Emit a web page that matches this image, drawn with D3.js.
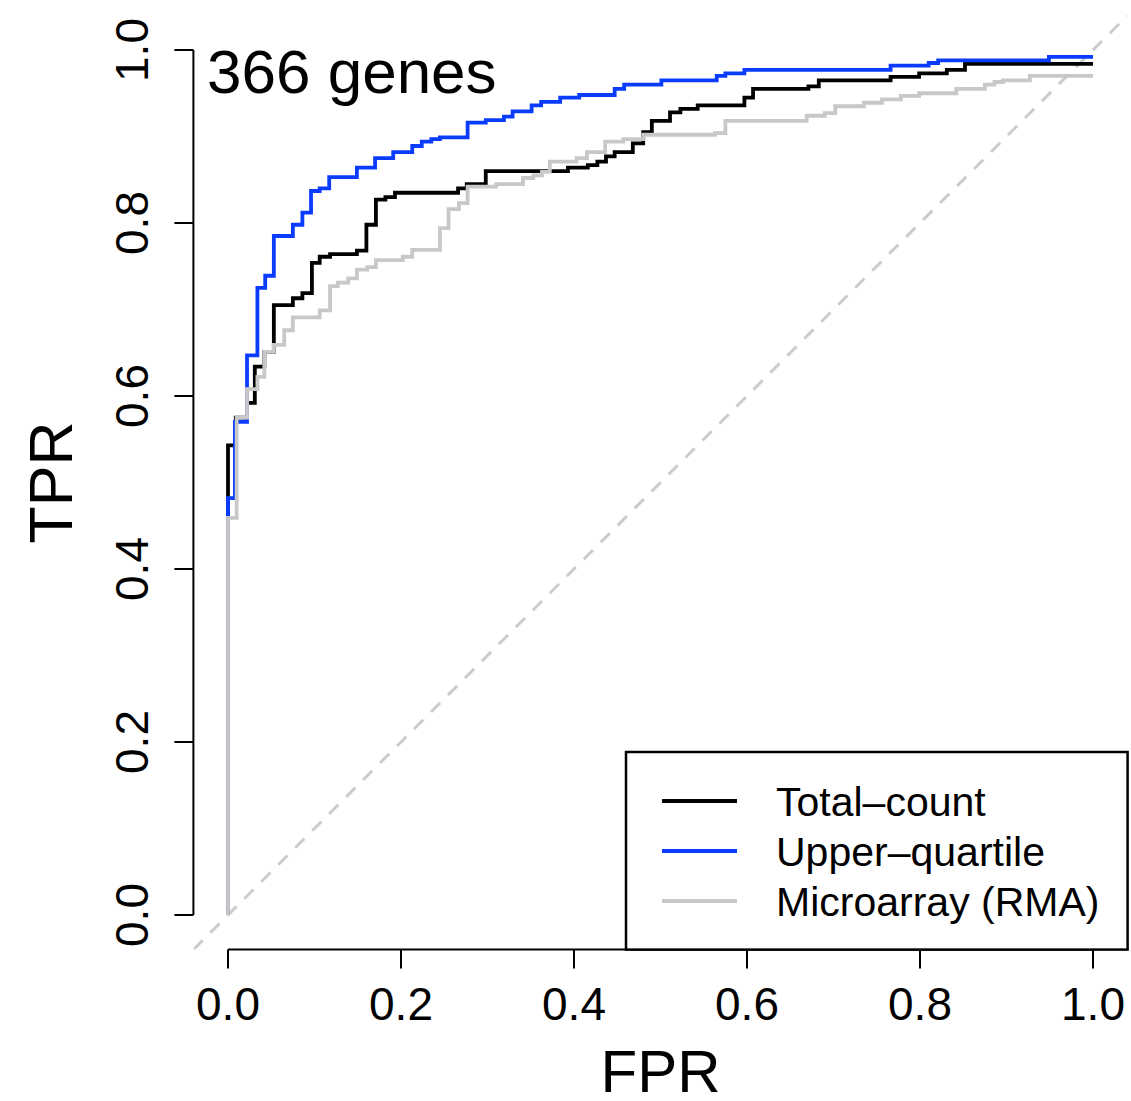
<!DOCTYPE html>
<html>
<head>
<meta charset="utf-8">
<script src="https://cdn.jsdelivr.net/npm/d3@7"></script>
<style>
  body { margin: 0; background: #fff; }
  svg { display: block; font-family: "Liberation Sans", Arial, Helvetica, sans-serif; }
</style>
</head>
<body>
<div id="chart"></div>
<script>
// ROC curves (corner points of each step)
const fprTotal = [0, 0, 0.009, 0.022, 0.031, 0.042, 0.053, 0.075, 0.086, 0.097, 0.106, 0.118, 0.149, 0.160, 0.171, 0.182, 0.193, 0.266, 0.276, 0.298, 0.393, 0.416, 0.427, 0.437, 0.447, 0.468, 0.480, 0.490, 0.511, 0.523, 0.543, 0.597, 0.607, 0.671, 0.683, 0.766, 0.799, 0.831, 0.852, 1.0];
const tprTotal = [0, 0.543, 0.575, 0.592, 0.634, 0.651, 0.705, 0.713, 0.719, 0.754, 0.761, 0.764, 0.768, 0.798, 0.827, 0.830, 0.835, 0.840, 0.845, 0.860, 0.864, 0.867, 0.871, 0.877, 0.882, 0.892, 0.905, 0.918, 0.928, 0.932, 0.936, 0.945, 0.955, 0.958, 0.965, 0.969, 0.973, 0.977, 0.984, 0.984];

const fprUpper = [0, 0, 0.008, 0.022, 0.034, 0.043, 0.053, 0.075, 0.086, 0.096, 0.106, 0.117, 0.149, 0.170, 0.191, 0.213, 0.224, 0.235, 0.245, 0.277, 0.298, 0.319, 0.329, 0.351, 0.362, 0.384, 0.406, 0.447, 0.458, 0.501, 0.565, 0.575, 0.597, 0.766, 0.810, 0.821, 0.949, 1.0];
const tprUpper = [0, 0.482, 0.570, 0.647, 0.725, 0.739, 0.785, 0.798, 0.812, 0.837, 0.840, 0.853, 0.864, 0.875, 0.882, 0.889, 0.894, 0.897, 0.899, 0.916, 0.919, 0.923, 0.929, 0.936, 0.940, 0.945, 0.948, 0.955, 0.960, 0.965, 0.970, 0.973, 0.977, 0.982, 0.985, 0.988, 0.992, 0.992];

const fprRma = [0, 0, 0.010, 0.022, 0.034, 0.042, 0.053, 0.065, 0.075, 0.106, 0.118, 0.127, 0.139, 0.149, 0.161, 0.171, 0.202, 0.213, 0.245, 0.255, 0.267, 0.277, 0.310, 0.341, 0.353, 0.363, 0.372, 0.403, 0.415, 0.436, 0.457, 0.480, 0.563, 0.575, 0.669, 0.690, 0.702, 0.735, 0.756, 0.778, 0.799, 0.842, 0.875, 0.886, 0.896, 0.927, 1.0];
const tprRma = [0, 0.459, 0.575, 0.608, 0.622, 0.651, 0.659, 0.676, 0.691, 0.699, 0.727, 0.731, 0.736, 0.746, 0.749, 0.757, 0.761, 0.769, 0.794, 0.816, 0.823, 0.842, 0.845, 0.852, 0.855, 0.859, 0.871, 0.875, 0.882, 0.894, 0.897, 0.902, 0.904, 0.918, 0.924, 0.927, 0.935, 0.939, 0.943, 0.947, 0.950, 0.955, 0.960, 0.963, 0.965, 0.970, 0.970];

const seriesNames = ["Total\u2013count", "Upper\u2013quartile", "Microarray (RMA)"];
const seriesColors = ["#000000", "#0a3cff", "#c8c8c8"];
const tickValues = [0, 0.2, 0.4, 0.6, 0.8, 1.0];
const title = "366 genes";

const width = 1131, height = 1101;
const x = d3.scaleLinear().domain([0, 1]).range([228, 1093]);
const y = d3.scaleLinear().domain([0, 1]).range([915, 50]);
// R style plot region, 4% padding on each side
const xr = [x(-0.04), x(1.04)];
const yr = [y(-0.04), y(1.04)];

const svg = d3.select("#chart").append("svg")
  .attr("width", width)
  .attr("height", height);

svg.append("defs").append("clipPath").attr("id", "plotclip")
  .append("rect")
  .attr("x", xr[0]).attr("y", yr[1])
  .attr("width", xr[1] - xr[0]).attr("height", yr[0] - yr[1]);

const plot = svg.append("g").attr("clip-path", "url(#plotclip)");

// diagonal reference
plot.append("line")
  .attr("x1", x(-0.04)).attr("y1", y(-0.04))
  .attr("x2", x(1.04)).attr("y2", y(1.04))
  .attr("stroke", "#cccccc")
  .attr("stroke-width", 3)
  .attr("stroke-dasharray", "13,11");

const series = [
  { fpr: fprTotal, tpr: tprTotal },
  { fpr: fprUpper, tpr: tprUpper },
  { fpr: fprRma, tpr: tprRma }
];

const line = d3.line()
  .x(d => x(d[0]))
  .y(d => y(d[1]))
  .curve(d3.curveStepAfter);

series.forEach((s, i) => {
  plot.append("path")
    .datum(s.fpr.map((f, j) => [f, s.tpr[j]]))
    .attr("fill", "none")
    .attr("stroke", seriesColors[i])
    .attr("stroke-width", 3.8)
    .attr("stroke-linejoin", "miter")
    .attr("d", line);
});

// axes, R style (no full box)
const xAxis = svg.append("g").attr("transform", `translate(0,${yr[0]})`);
xAxis.append("line")
  .attr("x1", x(0)).attr("x2", x(1))
  .attr("stroke", "#000").attr("stroke-width", 2);
xAxis.selectAll(".tick")
  .data(tickValues)
  .join("line")
  .attr("x1", d => x(d)).attr("x2", d => x(d))
  .attr("y1", 0).attr("y2", 19)
  .attr("stroke", "#000").attr("stroke-width", 2);
xAxis.selectAll("text")
  .data(tickValues)
  .join("text")
  .attr("x", d => x(d))
  .attr("y", 70)
  .attr("text-anchor", "middle")
  .style("font-size", "46px")
  .text(d => d.toFixed(1));

const yAxis = svg.append("g").attr("transform", `translate(${xr[0]},0)`);
yAxis.append("line")
  .attr("y1", y(0)).attr("y2", y(1))
  .attr("stroke", "#000").attr("stroke-width", 2);
yAxis.selectAll(".tick")
  .data(tickValues)
  .join("line")
  .attr("y1", d => y(d)).attr("y2", d => y(d))
  .attr("x1", 0).attr("x2", -19)
  .attr("stroke", "#000").attr("stroke-width", 2);
yAxis.selectAll("text")
  .data(tickValues)
  .join("text")
  .attr("transform", d => `translate(-45,${y(d)}) rotate(-90)`)
  .attr("text-anchor", "middle")
  .style("font-size", "46px")
  .text(d => d.toFixed(1));

// axis titles
svg.append("text")
  .attr("x", (xr[0] + xr[1]) / 2)
  .attr("y", 1092)
  .attr("text-anchor", "middle")
  .style("font-size", "60px")
  .text("FPR");

svg.append("text")
  .attr("transform", `translate(72,${(yr[0] + yr[1]) / 2}) rotate(-90)`)
  .attr("text-anchor", "middle")
  .style("font-size", "61px")
  .text("TPR");

svg.append("text")
  .attr("x", 207)
  .attr("y", 93)
  .style("font-size", "62px")
  .text(title);

// legend in bottom right corner
const legend = svg.append("g");
legend.append("rect")
  .attr("x", 626).attr("y", 752)
  .attr("width", xr[1] - 626).attr("height", yr[0] - 752)
  .attr("fill", "#fff")
  .attr("stroke", "#000").attr("stroke-width", 2.5);

seriesNames.forEach((name, i) => {
  const ly = 801 + i * 50;
  legend.append("line")
    .attr("x1", 662).attr("x2", 737)
    .attr("y1", ly).attr("y2", ly)
    .attr("stroke", seriesColors[i])
    .attr("stroke-width", 3.8);
  legend.append("text")
    .attr("x", 776)
    .attr("y", ly + 15)
    .style("font-size", "41px")
    .text(name);
});
</script>
</body>
</html>
